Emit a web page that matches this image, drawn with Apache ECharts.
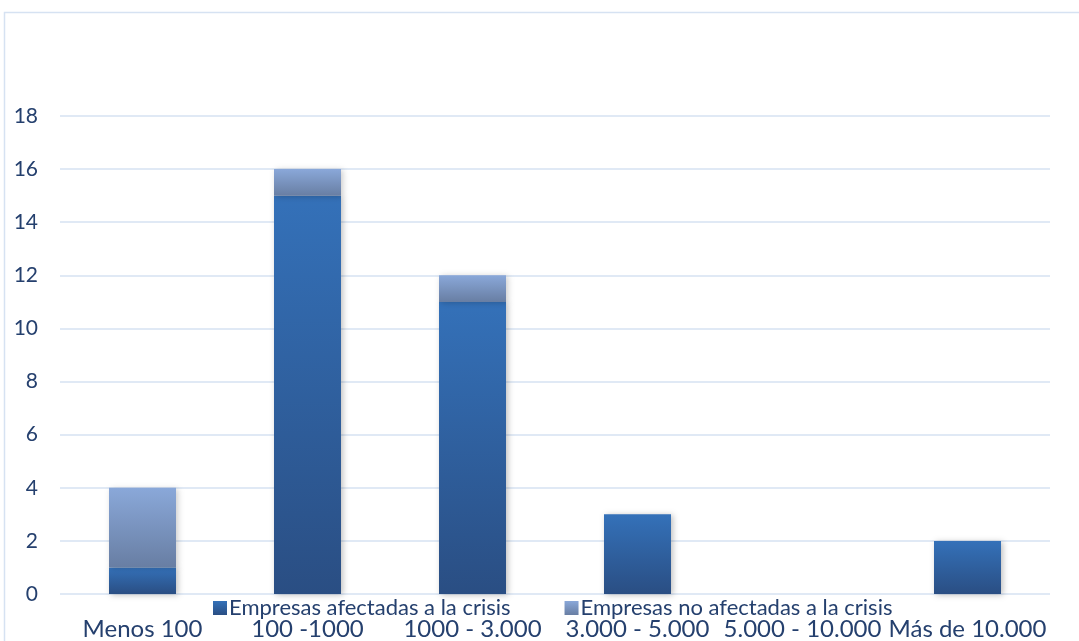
<!DOCTYPE html>
<html lang="es">
<head>
    <meta charset="UTF-8">
    <title>Empresas afectadas a la crisis</title>
    <style>
        html, body { margin: 0; padding: 0; background: #fff; }
        #box { width: 1079px; height: 641px; }
    </style>
</head>
<body>
<div id="box"></div>
<script src="https://cdn.jsdelivr.net/npm/echarts@6/dist/echarts.min.js"></script>
<script>
    var categories = ['Menos 100', '100 -1000', '1000 - 3.000', '3.000 - 5.000', '5.000 - 10.000', 'Más de 10.000'];
    var afectadas = [1, 15, 11, 3, 0, 2];
    var noAfectadas = [3, 1, 1, 0, 0, 0];
    var yTicks = { min: 0, max: 18, interval: 2 };

    var txt = '#25406e';
    var font = 'Lato, "Open Sans", sans-serif';

    function grad(top, bottom) {
        return new echarts.graphic.LinearGradient(0, 0, 0, 1, [
            { offset: 0, color: top },
            { offset: 1, color: bottom }
        ]);
    }

    var mychart = echarts.init(document.getElementById('box'));
    var option = {
        animation: false,
        graphic: [{
            type: 'rect',
            shape: { x: 4.5, y: 12.5, width: 1090, height: 640 },
            style: { fill: 'none', stroke: '#d6e2f2', lineWidth: 1.5 },
            silent: true
        }],
        grid: { left: 60, right: 29, top: 116, bottom: 47 },
        legend: {
            left: 208,
            top: 592,
            itemWidth: 14,
            itemHeight: 14,
            itemGap: 54,
            icon: 'rect',
            textStyle: { color: txt, fontSize: 22, fontFamily: font, padding: [0, 0, 0, -3] },
            data: ['Empresas afectadas a la crisis', 'Empresas no afectadas a la crisis']
        },
        xAxis: {
            type: 'category',
            data: categories,
            axisLine: { show: false },
            axisTick: { show: false },
            axisLabel: { color: txt, fontSize: 24, fontFamily: font, margin: 23, interval: 0 }
        },
        yAxis: {
            type: 'value',
            min: yTicks.min,
            max: yTicks.max,
            interval: yTicks.interval,
            axisLine: { show: false },
            axisTick: { show: false },
            axisLabel: { color: txt, fontSize: 21, fontFamily: font, margin: 22, align: 'right' },
            splitLine: { lineStyle: { color: '#d6e2f2', width: 1.5 } }
        },
        series: [{
            name: 'Empresas afectadas a la crisis',
            type: 'bar',
            stack: 'total',
            barWidth: 67,
            itemStyle: {
                color: grad('#3471b9', '#2a4e83'),
                shadowColor: 'rgba(0,0,0,0.25)',
                shadowBlur: 6,
                shadowOffsetX: 2,
                shadowOffsetY: 1
            },
            data: afectadas
        }, {
            name: 'Empresas no afectadas a la crisis',
            type: 'bar',
            stack: 'total',
            barWidth: 67,
            itemStyle: {
                color: grad('#8aa8d9', '#687ea3'),
                shadowColor: 'rgba(0,0,0,0.2)',
                shadowBlur: 6,
                shadowOffsetX: 2,
                shadowOffsetY: 1
            },
            data: noAfectadas
        }]
    };
    mychart.setOption(option);
</script>
</body>
</html>
